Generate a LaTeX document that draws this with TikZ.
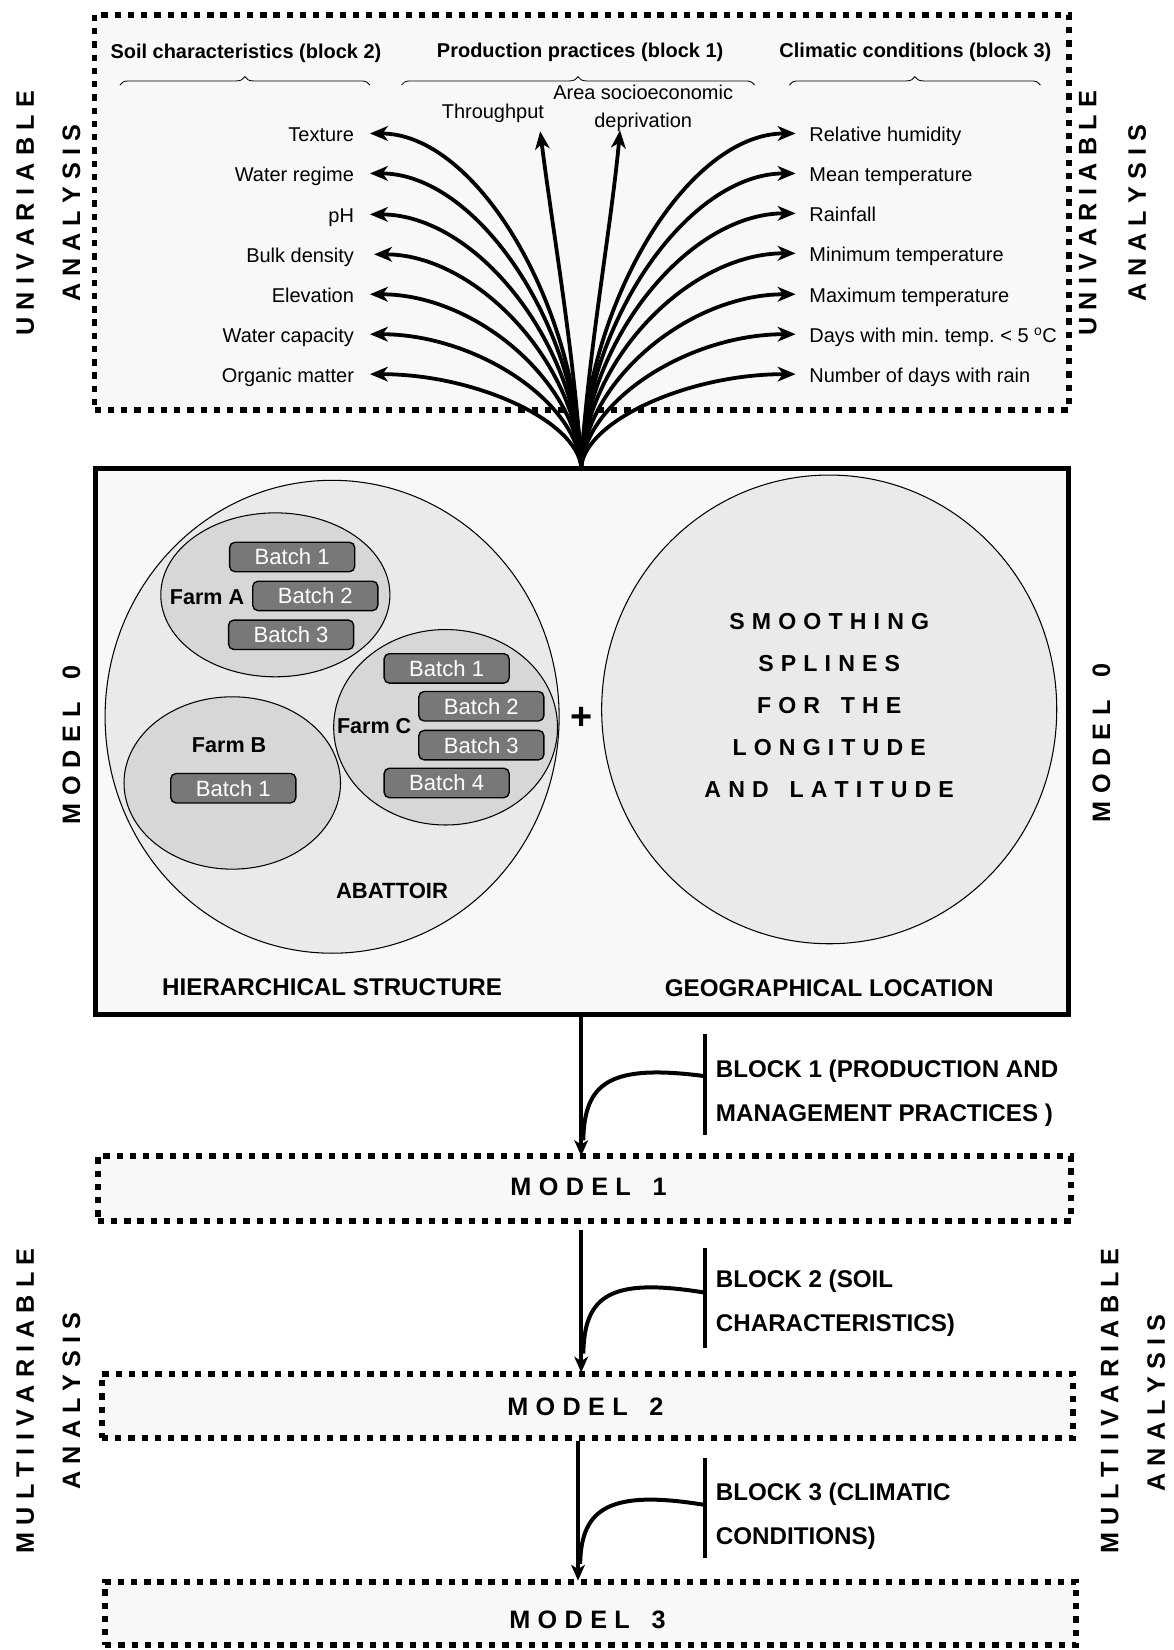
\documentclass[tikz,border=0pt]{standalone}
\usepackage{fontspec}
\setmainfont{Liberation Sans}
\usetikzlibrary{arrows.meta,shapes.geometric,decorations.pathreplacing,calc}
\definecolor{bgc}{HTML}{F8F8F8}
\definecolor{cgray}{HTML}{EAEAEA}
\definecolor{fgray}{HTML}{D7D7D7}
\definecolor{bgray}{HTML}{787878}
\newcommand\fsz[2]{\fontsize{#1}{#2}\selectfont}
\makeatletter
\newcommand\spacedtxt[2]{\def\sp@g{#1}\@tfor\sp@c:=#2\do{\sp@c\kern\sp@g}\kern-\sp@g}
\makeatother
\begin{document}
\begin{tikzpicture}[x=1pt,y=-1pt,
  dotbox/.style={draw, line width=5.5pt, dash pattern=on 6pt off 6.6pt, fill=bgc, inner sep=0pt},
  hdr/.style={font=\bfseries\fsz{19}{22}, inner sep=0pt},
  item/.style={font=\fsz{19}{22}, inner sep=0pt, text height=14pt, text depth=4pt},
  brc/.style={decorate, decoration={brace, amplitude=8pt}, line width=0.8pt},
  fan/.style={line width=3.6pt, -{Stealth[length=17pt,width=14pt,inset=5pt]}},
  circ/.style={ellipse, draw, line width=1pt, fill=cgray, inner sep=0pt},
  farm/.style={ellipse, draw, line width=1pt, fill=fgray, inner sep=0pt},
  batch/.style={draw, line width=1.3pt, fill=bgray, text=white, rounded corners=5pt,
    minimum width=119pt, minimum height=28pt, inner sep=0pt, font=\fsz{21}{22}},
  blab/.style={font=\bfseries\fsz{20.5}{22}, inner sep=0pt},
  bigl/.style={font=\bfseries\fsz{23}{26}, inner sep=0pt},
  rot/.style={rotate=90, font=\bfseries\fsz{24}{24}, inner sep=0pt},
  mtxt/.style={font=\bfseries\fsz{24}{24}},
  blk/.style={font=\bfseries\fsz{23}{42}, align=left, inner xsep=10pt, inner ysep=0pt, minimum height=95pt, anchor=west},
  bar/.style={line width=4pt},
  stem/.style={line width=3.8pt, -{Stealth[length=15pt,width=13pt,inset=4pt]}},
  branch/.style={line width=3.8pt}
]
\useasboundingbox (0,0) rectangle (1117,1570);

% ---------- top box ----------
\node[dotbox, minimum width=927pt, minimum height=376pt] (top) at (553.5,202) {};
\node[hdr] (hs) at (234,50.5) {Soil characteristics (block 2)};
\node[hdr] (hp) at (552,49.5) {Production practices (block 1)};
\node[hdr] (hc) at (871,49.5) {Climatic conditions (block 3)};
\draw[brc] (114,81) -- (352,81);
\draw[brc] (382,81) -- (718,81);
\draw[brc] (751,81) -- (990,81);

% ---------- middle box ----------
\node[draw, line width=4.5pt, fill=bgc, minimum width=926pt, minimum height=519pt, inner sep=0pt] (m0) at (554,705.5) {};

% ---------- fan ----------
\coordinate (O) at (553,444);
\foreach \n/\t/\y/\d in {a/Texture/127/15, b/Water regime/165/15, c/pH/204/15, d/Bulk density/242/19, e/Elevation/280/15, f/Water capacity/318/15, g/Organic matter/356/15}{
  \node[item, anchor=east] (L\n) at (337,\y+2.5) {\t};
  \pgfmathsetmacro\cya{\y+0.5*(444-\y)}
  \draw[fan] (O) .. controls (548,\cya) and (452,\y) .. ([xshift=\d pt, yshift=2.5pt]L\n.east);
}
\foreach \n/\t/\y in {a/Relative humidity/127, b/Mean temperature/165, c/Rainfall/203, d/Minimum temperature/241, e/Maximum temperature/280, f/Days with min.\ temp.\ < 5 \textsuperscript{o}C/318, g/Number of days with rain/356}{
  \node[item, anchor=west] (R\n) at (770,\y+2.5) {\t};
  \pgfmathsetmacro\cya{\y+0.5*(444-\y)}
  \draw[fan] (O) .. controls (558,\cya) and (655,\y) .. ([xshift=-13pt, yshift=2.5pt]R\n.west);
}
\node[item] (thr) at (469,108) {Throughput};
\draw[fan] (O) .. controls (547,340) and (526,220) .. ([xshift=45pt,yshift=-17pt]thr.center);
\node[font=\fsz{19}{26}, align=center, inner sep=0pt] (area) at (612,103) {Area socioeconomic\\deprivation};
\draw[fan] (O) .. controls (559,340) and (581,220) .. ([xshift=-22pt,yshift=-21pt]area.center);

% ---------- hierarchical structure ----------
\node[circ, minimum width=432pt, minimum height=450pt] (abat) at (316,682) {};
\node[farm, minimum width=218pt, minimum height=156pt] (fa) at (262,566) {};
\node[farm, minimum width=206pt, minimum height=164pt] (fb) at (221,745) {};
\node[farm, minimum width=213pt, minimum height=186pt] (fc) at (424,692) {};
\node[blab] (fal) at (197,568) {Farm A};
\node[blab] (fbl) at (218,709) {Farm B};
\node[blab] (fcl) at (356,691) {Farm C};
\node[batch] (a1) at (278,530) {Batch 1};
\node[batch] (a2) at (300,567) {Batch 2};
\node[batch] (a3) at (277,604) {Batch 3};
\node[batch] (b1b) at (222,750) {Batch 1};
\node[batch] (c1) at (425,636) {Batch 1};
\node[batch] (c2) at (458,672) {Batch 2};
\node[batch] (c3) at (458,709) {Batch 3};
\node[batch] (c4) at (425,745) {Batch 4};
\node[blab, font=\bfseries\fsz{21}{22}] (abl) at (373,848) {ABATTOIR};
\node[bigl] (hier) at (316,939) {HIERARCHICAL STRUCTURE};
\node[font=\bfseries\fsz{36}{36}, inner sep=0pt] (plus) at (553,684) {+};

% ---------- geographical location ----------
\node[circ, minimum width=433pt, minimum height=446pt] (geo) at (789,675) {};
\node[font=\bfseries\fsz{22}{40}, align=center, inner sep=0pt] (smt) at (789,671) {%
  \spacedtxt{6.8pt}{SMOOTHING}\\\spacedtxt{6.8pt}{SPLINES}\\\spacedtxt{6.8pt}{FOR~THE}\\%
  \spacedtxt{6.8pt}{LONGITUDE}\\\spacedtxt{6.8pt}{AND~LATITUDE}};
\node[bigl] (geol) at (789,940) {GEOGRAPHICAL LOCATION};

% ---------- side labels ----------
\node[rot] (uv1) at (24,203) {\spacedtxt{6.9pt}{UNIVARIABLE}};
\node[rot] (an1) at (68,203) {\spacedtxt{6.7pt}{ANALYSIS}};
\node[rot] (uv2) at (1035,203) {\spacedtxt{6.9pt}{UNIVARIABLE}};
\node[rot] (an2) at (1082,203) {\spacedtxt{6.7pt}{ANALYSIS}};
\node[rot] (md1) at (68,709) {\spacedtxt{7.5pt}{MODEL~0}};
\node[rot] (md2) at (1048,707) {\spacedtxt{7.5pt}{MODEL~0}};
\node[rot] (mv1) at (24,1333) {\spacedtxt{6.7pt}{MULTIIVARIABLE}};
\node[rot] (an3) at (68,1333) {\spacedtxt{6.7pt}{ANALYSIS}};
\node[rot] (mv2) at (1056,1333) {\spacedtxt{6.7pt}{MULTIIVARIABLE}};
\node[rot] (an4) at (1100,1335) {\spacedtxt{6.7pt}{ANALYSIS}};

% ---------- model boxes ----------
\node[dotbox, minimum width=926pt, minimum height=62pt] (m1) at (556,1131) {};
\node[mtxt] (m1t) at (560,1129) {\spacedtxt{7pt}{MODEL~1}};
\node[dotbox, minimum width=924pt, minimum height=61pt] (m2) at (559,1337.5) {};
\node[mtxt] (m2t) at (557,1339) {\spacedtxt{7pt}{MODEL~2}};
\node[dotbox, minimum width=924pt, minimum height=60pt] (m3) at (562,1535) {};
\node[mtxt] (m3t) at (559,1541) {\spacedtxt{7pt}{MODEL~3}};

% ---------- blocks ----------
\node[blk] (bk1) at (671,1040) {BLOCK 1 (PRODUCTION AND\\MANAGEMENT PRACTICES )};
\node[blk] (bk2) at (671,1240) {BLOCK 2 (SOIL\\CHARACTERISTICS)};
\node[blk] (bk3) at (671,1443) {BLOCK 3 (CLIMATIC\\CONDITIONS)};
\draw[bar] ([yshift=8pt]bk1.north west) -- ([yshift=8pt]bk1.south west);
\draw[bar] ([yshift=5pt]bk2.north west) -- ([yshift=5pt]bk2.south west);
\draw[bar] ([yshift=8pt]bk3.north west) -- ([yshift=8pt]bk3.south west);

% ---------- stems ----------
\coordinate (s1a) at (553,967);
\coordinate (s1b) at (553,1100);
\coordinate (s2a) at (553,1170);
\coordinate (s2b) at (553,1306);
\coordinate (s3a) at (550,1371);
\coordinate (s3b) at (550,1504);
\draw[stem] (s1a) -- (s1b);
\draw[stem] (s2a) -- (s2b);
\draw[stem] (s3a) -- (s3b);
\coordinate (j1) at (555,1085);
\coordinate (j2) at (555,1288);
\coordinate (j3) at (552,1488);
\draw[branch] ([yshift=16pt]bk1.west) .. controls (580,1012) and (556,1030) .. (j1);
\draw[branch] ([yshift=10pt]bk2.west) .. controls (580,1215) and (556,1233) .. (j2);
\draw[branch] ([yshift=11pt]bk3.west) .. controls (580,1417) and (553,1435) .. (j3);
\end{tikzpicture}
\end{document}
